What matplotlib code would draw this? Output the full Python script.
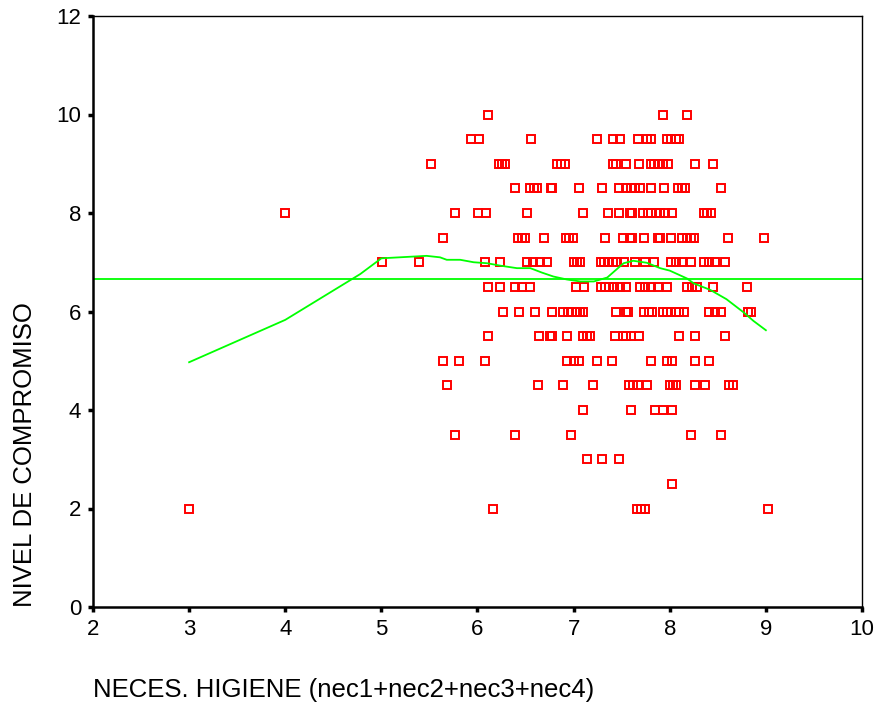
import matplotlib
matplotlib.use("Agg")
import matplotlib.pyplot as plt
from matplotlib import font_manager

# NECES. HIGIENE values, one list per NIVEL DE COMPROMISO level
x_at_10 = [6.11, 7.93, 8.18]
x_at_9_5 = [5.93, 6.02, 6.56, 7.24, 7.41, 7.48, 7.67, 7.76, 7.81, 7.97, 8.01, 8.06, 8.10]
x_at_9 = [5.52, 6.22, 6.26, 6.29, 6.83, 6.87, 6.91, 7.41, 7.44, 7.55, 7.68, 7.80, 7.84,
          7.88, 7.93, 7.98, 8.26, 8.45]
x_at_8_5 = [6.39, 6.55, 6.59, 6.62, 6.76, 6.78, 7.06, 7.29, 7.47, 7.55, 7.60, 7.64, 7.69,
            7.81, 7.94, 8.09, 8.13, 8.16, 8.53]
x_at_8 = [4.00, 5.77, 6.01, 6.09, 6.51, 7.10, 7.36, 7.47, 7.59, 7.61, 7.72, 7.77, 7.81,
          7.86, 7.90, 7.95, 8.02, 8.36, 8.39, 8.43]
x_at_7_5 = [5.64, 6.42, 6.46, 6.49, 6.69, 6.92, 6.95, 6.99, 7.33, 7.51, 7.59, 7.61, 7.73,
            7.88, 7.90, 8.01, 8.13, 8.18, 8.22, 8.25, 8.61, 8.98]
x_at_7 = [5.01, 5.39, 6.08, 6.23, 6.52, 6.58, 6.65, 6.72, 7.00, 7.04, 7.07, 7.28, 7.32,
          7.36, 7.41, 7.45, 7.52, 7.64, 7.74, 7.84, 8.01, 8.07, 8.13, 8.22, 8.36, 8.41,
          8.47, 8.57]
x_at_6_5 = [6.11, 6.23, 6.39, 6.46, 6.55, 7.02, 7.11, 7.28, 7.33, 7.37, 7.42, 7.48, 7.55,
            7.69, 7.74, 7.80, 7.88, 7.97, 8.18, 8.23, 8.28, 8.45, 8.80]
x_at_6 = [6.27, 6.43, 6.60, 6.77, 6.89, 6.94, 6.98, 7.03, 7.07, 7.10, 7.44, 7.55, 7.57,
          7.73, 7.78, 7.82, 7.93, 7.97, 8.01, 8.06, 8.10, 8.15, 8.41, 8.47, 8.53, 8.81,
          8.85]
x_at_5_5 = [6.11, 6.64, 6.75, 6.77, 6.93, 7.10, 7.14, 7.17, 7.43, 7.51, 7.55, 7.60, 7.68,
            8.10, 8.26, 8.57]
x_at_5 = [5.64, 5.81, 6.08, 6.93, 7.00, 7.06, 7.24, 7.40, 7.81, 7.97, 8.02, 8.26, 8.41]
x_at_4_5 = [5.68, 6.63, 6.89, 7.20, 7.58, 7.62, 7.67, 7.76, 8.00, 8.03, 8.07, 8.26, 8.37,
            8.62, 8.66]
x_at_4 = [7.10, 7.60, 7.85, 7.93, 8.02]
x_at_3_5 = [5.77, 6.39, 6.97, 8.22, 8.53]
x_at_3 = [7.14, 7.29, 7.47]
x_at_2_5 = [8.02]
x_at_2 = [3.00, 6.16, 7.66, 7.70, 7.74, 9.02]

levels = [(10, x_at_10), (9.5, x_at_9_5), (9, x_at_9), (8.5, x_at_8_5), (8, x_at_8),
          (7.5, x_at_7_5), (7, x_at_7), (6.5, x_at_6_5), (6, x_at_6), (5.5, x_at_5_5),
          (5, x_at_5), (4.5, x_at_4_5), (4, x_at_4), (3.5, x_at_3_5), (3, x_at_3),
          (2.5, x_at_2_5), (2, x_at_2)]

# smoothed fit line and mean line
loess_x = [3.0, 4.0, 4.78, 5.0, 5.47, 5.61, 5.68, 5.82, 5.96, 6.10, 6.24, 6.41, 6.55,
           6.67, 6.79, 6.93, 7.07, 7.21, 7.35, 7.42, 7.52, 7.62, 7.76, 7.90, 8.00, 8.18,
           8.25, 8.42, 8.59, 8.77, 8.87, 9.0]
loess_y = [4.97, 5.83, 6.76, 7.08, 7.13, 7.10, 7.05, 7.05, 7.00, 6.98, 6.93, 6.88, 6.88,
           6.79, 6.71, 6.65, 6.61, 6.61, 6.69, 6.81, 6.98, 7.03, 6.99, 6.88, 6.83, 6.67,
           6.57, 6.44, 6.25, 5.98, 5.81, 5.62]
mean_compromiso = 6.67

names = {f.name for f in font_manager.fontManager.ttflist}
if "Liberation Sans Narrow" in names:
    label_font, label_size = "Liberation Sans Narrow", 22.5
else:
    label_font, label_size = "Liberation Sans", 18.5
plt.rcParams["font.family"] = ["Liberation Sans", "DejaVu Sans"]

fig = plt.figure(figsize=(8.78, 7.18), dpi=100)
ax = fig.add_axes([93 / 878, 1 - 607 / 718, (862 - 93) / 878, (607 - 16) / 718])

xs = []
ys = []
for level, vals in levels:
    for v in vals:
        xs.append(v)
        ys.append(level)
ax.plot(xs, ys, linestyle="none", marker="s", markersize=5.8, markerfacecolor="none",
        markeredgecolor="#ff0000", markeredgewidth=1.4)

ax.axhline(mean_compromiso, color="#00ff00", linewidth=1.3)
ax.plot(loess_x, loess_y, color="#00ff00", linewidth=1.3)

ax.set_xlim(2, 10)
ax.set_ylim(0, 12)
ax.set_xticks(range(2, 11))
ax.set_yticks(range(0, 13, 2))

for side in ["left", "bottom"]:
    ax.spines[side].set_linewidth(1.8)
for side in ["top", "right"]:
    ax.spines[side].set_linewidth(1.0)

ax.tick_params(axis="both", direction="out", length=3.5, width=2.5, labelsize=16)
ax.tick_params(axis="x", pad=5)
ax.tick_params(axis="y", pad=5)

fig.text(93 / 878, 1 - 690 / 718, "NECES. HIGIENE (nec1+nec2+nec3+nec4)",
         family=label_font, fontsize=label_size, ha="left", va="center")
fig.text(25 / 878, 1 - 455 / 718, "NIVEL DE COMPROMISO", family=label_font,
         fontsize=label_size, rotation=90, ha="center", va="center")

plt.savefig("out.png", dpi=100)
